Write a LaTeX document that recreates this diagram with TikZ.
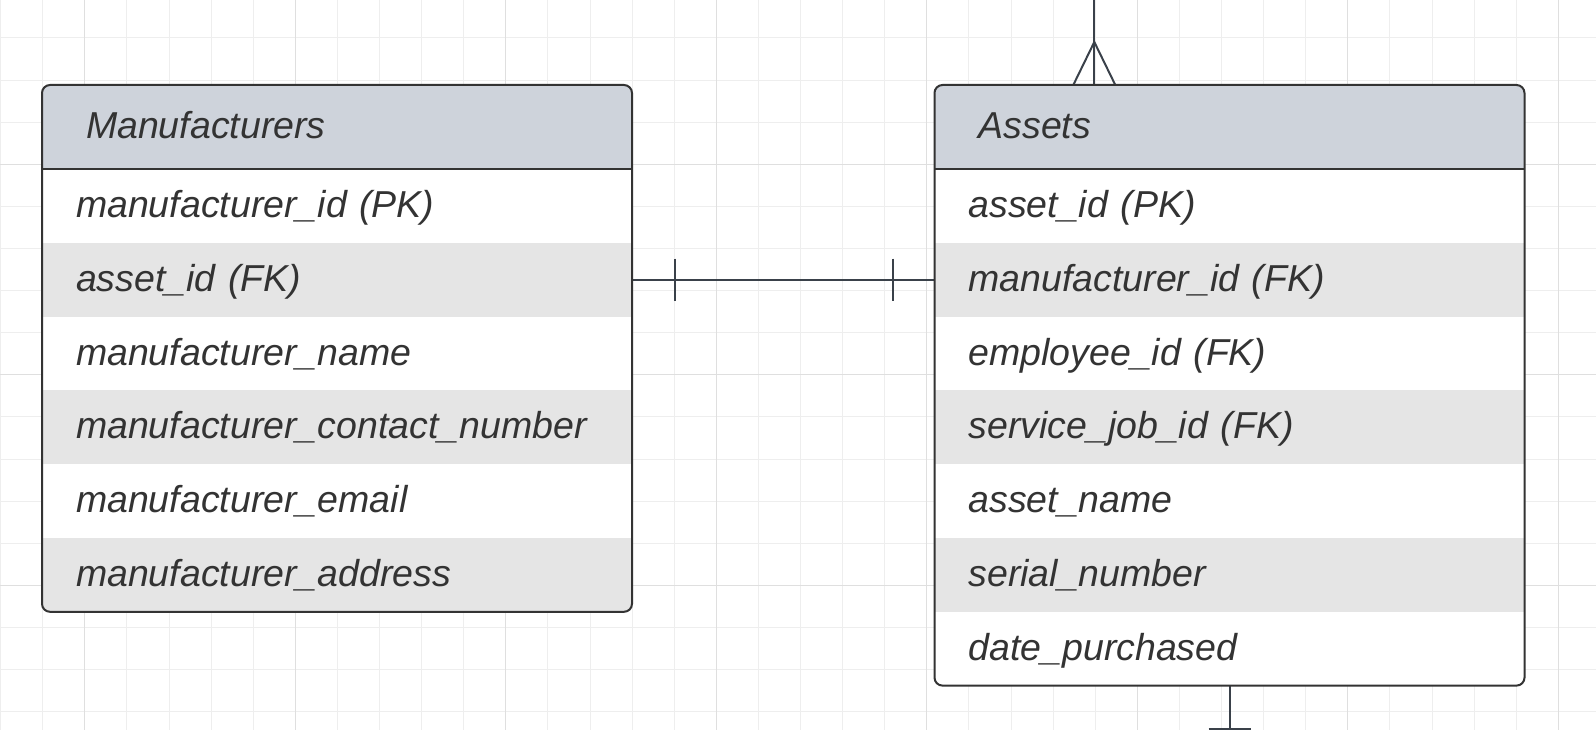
\documentclass[tikz,border=0pt]{standalone}
\usepackage{fontspec}
\setmainfont{Liberation Sans}
\usepackage{tikz}
\usetikzlibrary{positioning}
\definecolor{gridlight}{HTML}{EEEEEE}
\definecolor{griddark}{HTML}{DFDFDF}
\definecolor{headfill}{HTML}{CED3DB}
\definecolor{rowgray}{HTML}{E5E5E5}
\definecolor{edgegray}{HTML}{333333}
\definecolor{linkgray}{HTML}{3A414A}
\tikzset{
  cell/.style = {rectangle, inner ysep=0pt, inner xsep=34pt, outer sep=0pt, align=left,
    minimum height=73.8pt, text width=522pt, text height=30pt, text depth=7pt,
    font=\fontsize{37.5}{45}\selectfont\itshape, text=edgegray},
  whitecell/.style = {cell, fill=white},% ligne blanche
  graycell/.style = {cell, fill=rowgray},% ligne grise
  headcell/.style = {cell, anchor=north west, fill=headfill, inner xsep=44pt,
    text width=502pt, minimum height=84pt},% titre de table
  tableedge/.style = {draw=edgegray, line width=2pt, rounded corners=8pt},
  link/.style = {draw=linkgray, line width=2pt}
}

\begin{document}
\begin{tikzpicture}[x=1pt, y=-1pt]
  \useasboundingbox (0,0) rectangle (1596,730);
  \fill[white] (0,0) rectangle (1596,730);
  % grid
  \foreach \k in {0,...,37} \draw[gridlight, line width=1pt] ({0.6+42.1*\k},0) -- ++(0,730);
  \foreach \k in {1,...,17} \draw[gridlight, line width=1pt] (0,{-4.1+42.1*\k}) -- ++(1596,0);
  \foreach \k in {2,7,...,37} \draw[griddark, line width=1pt] ({0.6+42.1*\k},0) -- ++(0,730);
  \foreach \k in {4,9,14} \draw[griddark, line width=1pt] (0,{-4.1+42.1*\k}) -- ++(1596,0);

  % Manufacturers
  \begin{scope}
    \clip[rounded corners=8pt] (42,85) rectangle (632,611.8);
    \node [headcell] (mhead) at (42,85) {Manufacturers};
    \node [whitecell, below=0pt of mhead] (m1) {manufacturer\_id (PK)};
    \node [graycell, below=0pt of m1] (m2) {asset\_id (FK)};
    \node [whitecell, below=0pt of m2] (m3) {manufacturer\_name};
    \node [graycell, below=0pt of m3] (m4) {manufacturer\_contact\_number};
    \node [whitecell, below=0pt of m4] (m5) {manufacturer\_email};
    \node [graycell, below=0pt of m5] (m6) {manufacturer\_address};
  \end{scope}

  % Assets
  \begin{scope}
    \clip[rounded corners=8pt] (934.5,85) rectangle (1524.5,685.6);
    \node [headcell] (ahead) at (934.5,85) {Assets};
    \node [whitecell, below=0pt of ahead] (a1) {asset\_id (PK)};
    \node [graycell, below=0pt of a1] (a2) {manufacturer\_id (FK)};
    \node [whitecell, below=0pt of a2] (a3) {employee\_id (FK)};
    \node [graycell, below=0pt of a3] (a4) {service\_job\_id (FK)};
    \node [whitecell, below=0pt of a4] (a5) {asset\_name};
    \node [graycell, below=0pt of a5] (a6) {serial\_number};
    \node [whitecell, below=0pt of a6] (a7) {date\_purchased};
  \end{scope}

  % one to one
  \draw[link] (m2.east) -- (a2.west);
  \draw[link] ([xshift=43pt]m2.east) ++(0,-21) -- ++(0,42);
  \draw[link] ([xshift=-42pt]a2.west) ++(0,-21) -- ++(0,42);

  % many, going up
  \coordinate (tend) at (1094.3,0);
  \path (tend |- ahead.north) coordinate (tfoot);
  \draw[link] (tend) -- (tfoot);
  \draw[link] ([xshift=-21pt]tfoot) -- ([yshift=43pt]tfoot) -- ([xshift=21pt]tfoot);

  % one, going down
  \draw[link] (a7.south) -- ++(0,43.5) coordinate (bend);
  \draw[link] ([xshift=-21pt]bend) -- ([xshift=21pt]bend);

  % table borders
  \draw[tableedge] (mhead.north west) rectangle (m6.south east);
  \draw[tableedge, rounded corners=0pt] (mhead.south west) -- (mhead.south east);
  \draw[tableedge] (ahead.north west) rectangle (a7.south east);
  \draw[tableedge, rounded corners=0pt] (ahead.south west) -- (ahead.south east);
\end{tikzpicture}
\end{document}
